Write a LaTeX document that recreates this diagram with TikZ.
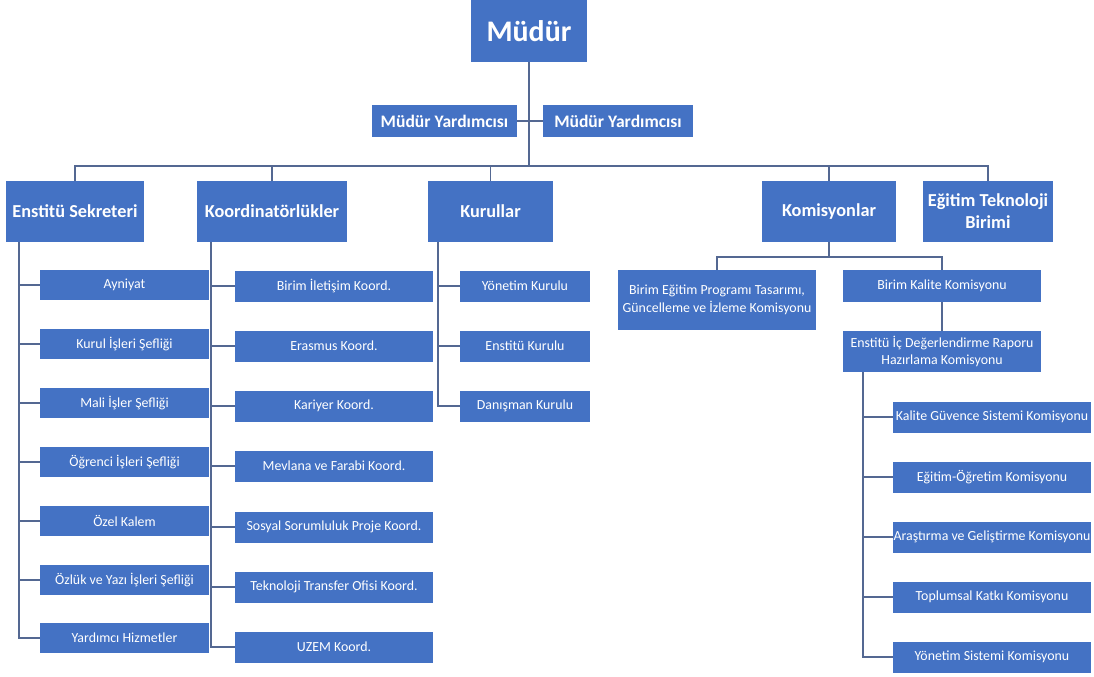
\documentclass[tikz,border=0pt]{standalone}
\usepackage{fontspec}
\setmainfont{Carlito}
\usepackage{tikz}
\usetikzlibrary{positioning}
\definecolor{boxcolor}{RGB}{68, 114, 196}
\definecolor{linecolor}{RGB}{84, 104, 146}

\begin{document}
\begin{tikzpicture}[
    x=0.02cm, y=-0.02cm,
    unit/.style={fill=boxcolor, text=white, inner sep=0pt, align=center},
    head/.style={unit, font=\bfseries\fontsize{10.4}{12.5}\selectfont, minimum height=1.22cm},
    sub/.style={unit, font=\fontsize{7.9}{10}\selectfont, minimum height=0.62cm},
    link/.style={draw=linecolor, line width=1.1pt}
]
\useasboundingbox (0,0) rectangle (1094,676);

% Top management
\node[unit, font=\bfseries\fontsize{17}{20}\selectfont, minimum width=2.34cm, minimum height=1.24cm] (mudur) at (529, 31) {Müdür};
\node[unit, font=\bfseries\fontsize{10}{12}\selectfont, minimum width=2.9cm, minimum height=0.64cm] (yrdA) at (444.5, 121) {Müdür Yardımcısı};
\node[unit, font=\bfseries\fontsize{10}{12}\selectfont, minimum width=3.0cm, minimum height=0.64cm] (yrdB) at (618, 121) {Müdür Yardımcısı};

% Main units
\node[head, minimum width=2.76cm] (sekreter) at (75, 211.5) {Enstitü Sekreteri};
\node[head, minimum width=3.0cm] (koord) at (272, 211.5) {Koordinatörlükler};
\node[head, minimum width=2.5cm] (kurul) at (490.5, 211.5) {Kurullar};
\node[head, minimum width=2.68cm] (komisyon) at (829, 211.5) {Komisyonlar};
\node[head, minimum width=2.6cm] (etb) at (988, 211.5) {Eğitim Teknoloji\\Birimi};

% Enstitu Sekreteri
\node[sub, minimum width=3.38cm, minimum height=0.6cm] (sek1) at (124.5, 285) {Ayniyat};
\node[sub, minimum width=3.38cm, minimum height=0.6cm] (sek2) at (124.5, 344) {Kurul İşleri Şefliği};
\node[sub, minimum width=3.38cm, minimum height=0.6cm] (sek3) at (124.5, 403) {Mali İşler Şefliği};
\node[sub, minimum width=3.38cm, minimum height=0.6cm] (sek4) at (124.5, 462) {Öğrenci İşleri Şefliği};
\node[sub, minimum width=3.38cm, minimum height=0.6cm] (sek5) at (124.5, 521) {Özel Kalem};
\node[sub, minimum width=3.38cm, minimum height=0.6cm] (sek6) at (124.5, 580) {Özlük ve Yazı İşleri Şefliği};
\node[sub, minimum width=3.38cm, minimum height=0.6cm] (sek7) at (124.5, 638) {Yardımcı Hizmetler};

% Koordinatorlukler
\node[sub, minimum width=3.96cm] (koo1) at (334, 286) {Birim İletişim Koord.};
\node[sub, minimum width=3.96cm] (koo2) at (334, 346) {Erasmus Koord.};
\node[sub, minimum width=3.96cm] (koo3) at (334, 406) {Kariyer Koord.};
\node[sub, minimum width=3.96cm] (koo4) at (334, 466) {Mevlana ve Farabi Koord.};
\node[sub, minimum width=3.96cm] (koo5) at (334, 527) {Sosyal Sorumluluk Proje Koord.};
\node[sub, minimum width=3.96cm] (koo6) at (334, 587) {Teknoloji Transfer Ofisi Koord.};
\node[sub, minimum width=3.96cm] (koo7) at (334, 647) {UZEM Koord.};

% Kurullar
\node[sub, minimum width=2.6cm] (kur1) at (525, 286) {Yönetim Kurulu};
\node[sub, minimum width=2.6cm] (kur2) at (525, 346) {Enstitü Kurulu};
\node[sub, minimum width=2.6cm] (kur3) at (525, 406) {Danışman Kurulu};

% Komisyonlar
\node[sub, minimum width=3.96cm, minimum height=1.2cm] (bep) at (717, 300) {Birim Eğitim Programı Tasarımı,\\Güncelleme ve İzleme Komisyonu};
\node[sub, minimum width=3.96cm, minimum height=0.64cm] (bkk) at (942, 286) {Birim Kalite Komisyonu};
\node[sub, minimum width=3.96cm, minimum height=0.82cm] (icd) at (942, 351.5) {Enstitü İç Değerlendirme Raporu\\Hazırlama Komisyonu};
\node[sub, minimum width=3.96cm] (kom1) at (992, 417) {Kalite Güvence Sistemi Komisyonu};
\node[sub, minimum width=3.96cm] (kom2) at (992, 477) {Eğitim-Öğretim Komisyonu};
\node[sub, minimum width=3.96cm] (kom3) at (992, 537) {Araştırma ve Geliştirme Komisyonu};
\node[sub, minimum width=3.96cm] (kom4) at (992, 597) {Toplumsal Katkı Komisyonu};
\node[sub, minimum width=3.96cm] (kom5) at (992, 657) {Yönetim Sistemi Komisyonu};

% Connectors
\coordinate (bus) at (529, 166);
\coordinate (kbus) at (829, 257);
\coordinate (spineS) at (19, 0);
\coordinate (spineK) at (211, 0);
\coordinate (spineR) at (438, 0);
\coordinate (spineI) at (863, 0);

\draw[link] (yrdA.east) -- (yrdB.west);
\draw[link] (mudur.south) -- (bus);
\foreach \n in {sekreter, koord, kurul, komisyon, etb}
    \draw[link] (bus) -| (\n.north);
\foreach \n in {sek1, sek2, sek3, sek4, sek5, sek6, sek7}
    \draw[link] (sekreter.south -| spineS) |- (\n.west);
\foreach \n in {koo1, koo2, koo3, koo4, koo5, koo6, koo7}
    \draw[link] (koord.south -| spineK) |- (\n.west);
\foreach \n in {kur1, kur2, kur3}
    \draw[link] (kurul.south -| spineR) |- (\n.west);
\draw[link] (komisyon.south) -- (kbus);
\draw[link] (kbus) -| (bep.north);
\draw[link] (kbus) -| (bkk.north);
\draw[link] (bkk.south) -- (icd.north);
\foreach \n in {kom1, kom2, kom3, kom4, kom5}
    \draw[link] (icd.south -| spineI) |- (\n.west);

\end{tikzpicture}
\end{document}
